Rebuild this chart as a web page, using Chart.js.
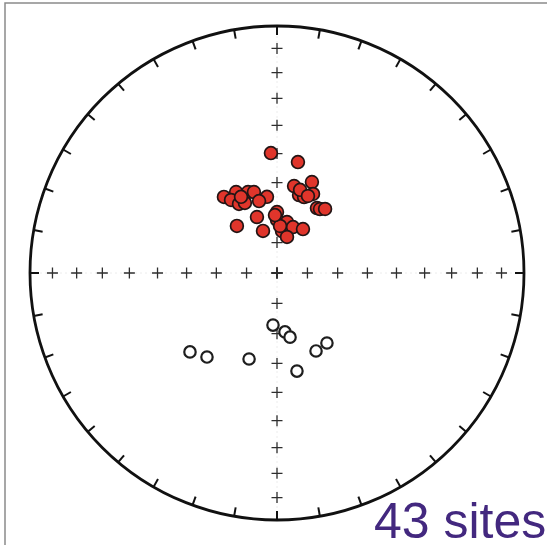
<!DOCTYPE html>
<html>
<head>
<meta charset="utf-8">
<script src="https://cdn.jsdelivr.net/npm/chart.js@4.4.1/dist/chart.umd.min.js"></script>
<style>
  html, body { margin: 0; padding: 0; background: #fff; }
  #wrap { width: 547px; height: 545px; position: relative; }
</style>
</head>
<body>
<div id="wrap"><canvas id="net"></canvas></div>
<script>
// site mean directions, lower hemisphere (filled) and upper hemisphere (open)
const decLower = [357.1, 10.7, 11.1, 21.0, 325.1, 333.2, 340.3, 344.1, 352.5, 327.8, 331.2, 335.4,
                  346.0, 15.8, 19.6, 24.5, 31.6, 33.9, 36.9, 340.3, 0.0, 0.0, 11.1, 319.6,
                  341.6, 6.8, 19.2, 30.6, 15.5, 15.5, 3.7, 334.7, 21.9, 358.0];
const incLower = [49.8, 52.3, 60.6, 57.6, 59.2, 59.9, 61.5, 62.1, 64.6, 61.4, 63.9, 64.5,
                  65.5, 63.2, 63.3, 61.2, 64.8, 64.5, 63.5, 70.4, 69.9, 72.5, 72.9, 69.6,
                  75.4, 76.1, 74.0, 73.2, 77.7, 61.4, 74.5, 62.1, 62.5, 70.9];
const decUpper = [227.8, 219.8, 198.0, 184.4, 172.3, 168.5, 153.4, 144.5, 168.5];
const incUpper = [-50.7, -53.5, -60.0, -72.8, -70.4, -68.4, -61.1, -61.5, -56.7];

// grid: azimuth ticks and inclination crosses along the axes
const azimuthTicks = [0, 10, 20, 30, 40, 50, 60, 70, 80, 90, 100, 110, 120, 130, 140, 150, 160, 170,
                      180, 190, 200, 210, 220, 230, 240, 250, 260, 270, 280, 290, 300, 310, 320, 330, 340, 350];
const incCrosses = [10, 20, 30, 40, 50, 60, 70, 80, 90];
const siteLabel = '43 sites';

// equal-area (Schmidt) projection, radius 1
function project(dec, inc) {
  const r = Math.SQRT2 * Math.sin((90 - Math.abs(inc)) * Math.PI / 360);
  const d = dec * Math.PI / 180;
  return { x: r * Math.sin(d), y: r * Math.cos(d) };
}

const lowerPts = decLower.map((d, i) => project(d, incLower[i]));
const upperPts = decUpper.map((d, i) => project(d, incUpper[i]));

const netPlugin = {
  id: 'net',
  beforeDatasetsDraw(chart) {
    const { ctx, scales } = chart;
    const cx = scales.x.getPixelForValue(0);
    const cy = scales.y.getPixelForValue(0);
    const R = scales.x.getPixelForValue(1) - cx;
    ctx.save();

    // frame
    ctx.strokeStyle = '#8a8a8a';
    ctx.lineWidth = 1.5;
    ctx.beginPath();
    ctx.moveTo(5, 545);
    ctx.lineTo(5, 3);
    ctx.lineTo(547, 3);
    ctx.stroke();

    // faint axis lines
    ctx.strokeStyle = '#ececec';
    ctx.lineWidth = 1;
    ctx.setLineDash([2, 3]);
    ctx.beginPath();
    ctx.moveTo(cx - R, cy); ctx.lineTo(cx + R, cy);
    ctx.moveTo(cx, cy - R); ctx.lineTo(cx, cy + R);
    ctx.stroke();
    ctx.setLineDash([]);

    // crosses
    ctx.strokeStyle = '#2e2e2e';
    ctx.lineWidth = 1.3;
    const arm = 5.5;
    [0, 90, 180, 270].forEach(az => {
      incCrosses.forEach(inc => {
        const p = project(az, inc);
        const px = scales.x.getPixelForValue(p.x);
        const py = scales.y.getPixelForValue(p.y);
        ctx.beginPath();
        ctx.moveTo(px - arm, py); ctx.lineTo(px + arm, py);
        ctx.moveTo(px, py - arm); ctx.lineTo(px, py + arm);
        ctx.stroke();
      });
    });

    // primitive circle
    ctx.strokeStyle = '#111';
    ctx.lineWidth = 2.8;
    ctx.beginPath();
    ctx.arc(cx, cy, R, 0, Math.PI * 2);
    ctx.stroke();

    // azimuth ticks
    ctx.lineWidth = 2;
    azimuthTicks.forEach(az => {
      const a = az * Math.PI / 180;
      const sx = Math.sin(a), sy = -Math.cos(a);
      ctx.beginPath();
      ctx.moveTo(cx + sx * R, cy + sy * R);
      ctx.lineTo(cx + sx * (R - 9), cy + sy * (R - 9));
      ctx.stroke();
    });
    ctx.restore();
  },
  afterDraw(chart) {
    const { ctx } = chart;
    ctx.save();
    ctx.fillStyle = '#43287f';
    ctx.font = "50px 'Liberation Sans', Arial, sans-serif";
    ctx.textAlign = 'left';
    ctx.textBaseline = 'alphabetic';
    ctx.fillText(siteLabel, 374, 538);
    ctx.restore();
  }
};

const ctx = document.getElementById('net').getContext('2d');
const netChart = new Chart(ctx, {
  type: 'scatter',
  data: {
    datasets: [{
      label: 'Lower hemisphere',
      data: lowerPts,
      backgroundColor: '#e0352b',
      borderColor: '#221515',
      borderWidth: 1.7,
      pointRadius: 6.4,
      pointHoverRadius: 6.4
    },
    {
      label: 'Upper hemisphere',
      data: upperPts,
      backgroundColor: '#ffffff',
      borderColor: '#1e1e1e',
      borderWidth: 2.2,
      pointRadius: 5.7,
      pointHoverRadius: 5.7
    }]
  },
  options: {
    responsive: true,
    maintainAspectRatio: false,
    animation: false,
    clip: false,
    layout: { padding: { left: 30, right: 23, top: 26, bottom: 25 } },
    scales: {
      x: { type: 'linear', min: -1, max: 1, display: false },
      y: { type: 'linear', min: -1, max: 1, display: false }
    },
    plugins: {
      legend: { display: false },
      tooltip: { enabled: false }
    }
  },
  plugins: [netPlugin]
});
</script>
</body>
</html>
